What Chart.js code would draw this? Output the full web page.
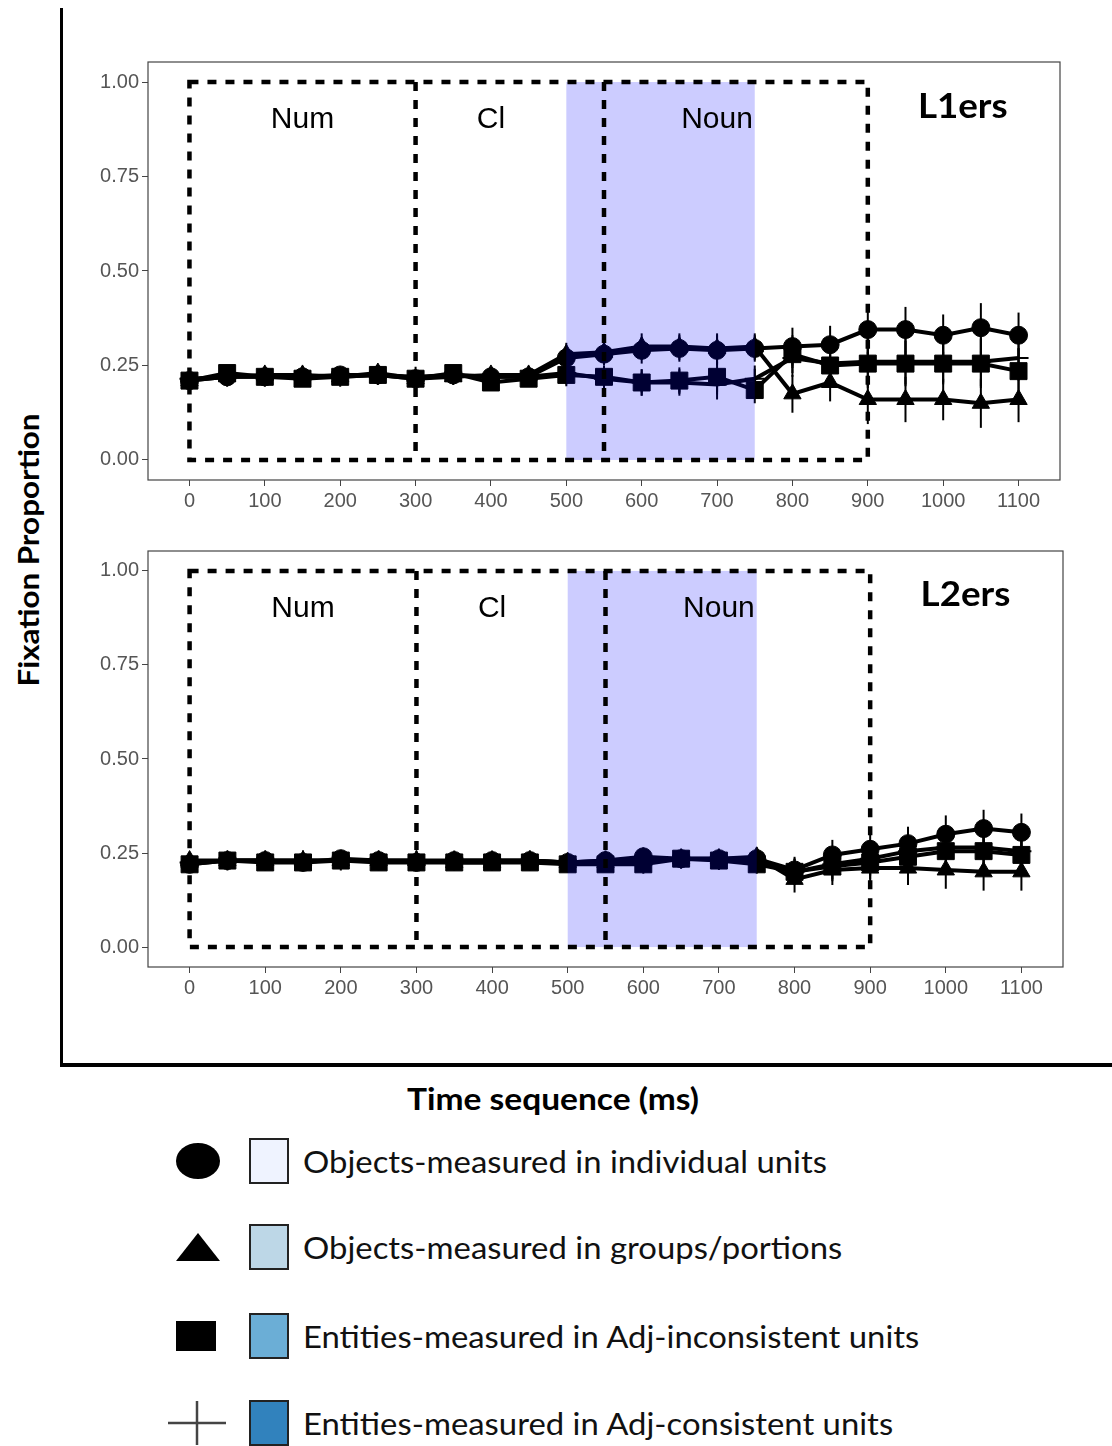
<!DOCTYPE html>
<html>
<head>
<meta charset="utf-8">
<script src="https://cdn.jsdelivr.net/npm/chart.js@4/dist/chart.umd.min.js"></script>
<style>
  body { margin: 0; background: #fff; width: 1112px; height: 1446px; position: relative; overflow: hidden; }
  .abs { position: absolute; }
  #frameV { left: 60px; top: 8px; width: 3px; height: 1059px; background: #000; }
  #frameH { left: 60px; top: 1063px; width: 1052px; height: 4px; background: #000; }
  #ytitle { left: 28px; top: 550px; transform: translate(-50%, -50%) rotate(-90deg) scaleX(1.12); font: bold 28px Lato, sans-serif; white-space: nowrap; }
  #xtitle { left: 553px; top: 1098px; transform: translate(-50%, -50%) scaleX(1.08); font: bold 31px Lato, sans-serif; white-space: nowrap; }
  .leg { position: absolute; left: 0; width: 1112px; height: 60px; }
  .leg .txt { position: absolute; left: 303px; top: 50%; transform: translateY(-50%) scaleX(1.06); transform-origin: left center; font: 31px Lato, sans-serif; white-space: nowrap; color: #111; }
  .leg .sw { position: absolute; left: 249px; top: 50%; width: 36px; height: 42px; transform: translateY(-50%); border: 2px solid #222; }
  .leg .mk { position: absolute; top: 50%; transform: translateY(-50%); }
</style>
</head>
<body>
<div id="frameV" class="abs"></div>
<div id="frameH" class="abs"></div>
<div id="ytitle" class="abs">Fixation Proportion</div>
<div id="xtitle" class="abs">Time sequence (ms)</div>

<canvas id="c1" class="abs" style="left:70px;top:47px;width:1010px;height:483px" width="1010" height="483"></canvas>
<canvas id="c2" class="abs" style="left:70px;top:536px;width:1013px;height:481px" width="1013" height="481"></canvas>

<div id="legend"></div>

<script>
// time points (ms)
var times = [0, 50, 100, 150, 200, 250, 300, 350, 400, 450, 500, 550, 600, 650, 700, 750, 800, 850, 900, 950, 1000, 1050, 1100];
var xTicks = [0, 100, 200, 300, 400, 500, 600, 700, 800, 900, 1000, 1100];
var yTicks = [0, 0.25, 0.5, 0.75, 1];

var seriesNames = [
  'Objects-measured in individual units',
  'Objects-measured in groups/portions',
  'Entities-measured in Adj-inconsistent units',
  'Entities-measured in Adj-consistent units'
];
var seriesColors = ['#EFF3FF', '#BDD7E7', '#6BAED6', '#3182BD'];

// L1ers panel
var l1Individual = [0.21, 0.22, 0.22, 0.22, 0.225, 0.225, 0.215, 0.225, 0.22, 0.22, 0.27, 0.28, 0.29, 0.295, 0.29, 0.295, 0.30, 0.305, 0.345, 0.345, 0.33, 0.35, 0.33];
var l1Groups = [0.21, 0.22, 0.225, 0.225, 0.22, 0.23, 0.215, 0.22, 0.225, 0.225, 0.28, 0.285, 0.30, 0.30, 0.295, 0.30, 0.175, 0.205, 0.16, 0.16, 0.16, 0.15, 0.16];
var l1AdjIncons = [0.21, 0.23, 0.22, 0.215, 0.22, 0.225, 0.215, 0.23, 0.205, 0.215, 0.225, 0.22, 0.205, 0.21, 0.22, 0.185, 0.28, 0.25, 0.255, 0.255, 0.255, 0.255, 0.235];
var l1AdjCons = [0.215, 0.22, 0.22, 0.22, 0.22, 0.225, 0.22, 0.225, 0.22, 0.22, 0.23, 0.215, 0.205, 0.205, 0.20, 0.215, 0.27, 0.255, 0.26, 0.26, 0.26, 0.26, 0.27];
var l1Err = [0.02, 0.02, 0.02, 0.02, 0.02, 0.02, 0.02, 0.02, 0.02, 0.02, 0.03, 0.03, 0.035, 0.035, 0.04, 0.035, 0.05, 0.05, 0.065, 0.06, 0.055, 0.065, 0.06];

// L2ers panel
var l2Individual = [0.22, 0.23, 0.23, 0.225, 0.235, 0.23, 0.225, 0.23, 0.23, 0.23, 0.225, 0.23, 0.24, 0.235, 0.235, 0.235, 0.205, 0.245, 0.26, 0.275, 0.30, 0.315, 0.305];
var l2Groups = [0.23, 0.23, 0.23, 0.23, 0.23, 0.23, 0.23, 0.225, 0.225, 0.23, 0.225, 0.225, 0.23, 0.235, 0.235, 0.24, 0.18, 0.205, 0.21, 0.21, 0.205, 0.20, 0.20];
var l2AdjIncons = [0.22, 0.23, 0.225, 0.225, 0.23, 0.225, 0.225, 0.225, 0.225, 0.225, 0.22, 0.22, 0.22, 0.235, 0.23, 0.22, 0.20, 0.215, 0.225, 0.24, 0.255, 0.255, 0.245];
var l2AdjCons = [0.225, 0.23, 0.23, 0.23, 0.23, 0.23, 0.23, 0.23, 0.23, 0.23, 0.225, 0.23, 0.23, 0.235, 0.235, 0.23, 0.20, 0.22, 0.235, 0.255, 0.265, 0.265, 0.255];
var l2Err = [0.02, 0.02, 0.02, 0.02, 0.02, 0.02, 0.02, 0.02, 0.02, 0.02, 0.02, 0.02, 0.025, 0.025, 0.025, 0.025, 0.035, 0.04, 0.045, 0.045, 0.05, 0.05, 0.05];

// regions (ms)
var shadeStart = 500, shadeEnd = 750;
var boxStart = 0, boxEnd = 900;
var boxDividers = [300, 550];
var regionLabels = ['Num', 'Cl', 'Noun'];
var regionLabelX = [150, 400, 700];

var pointStyles = ['circle', 'triangle', 'rect', 'cross'];
var pointSizes = [9, 10, 12, 10];

function toPoints(arr) {
  return arr.map(function (v, i) { return { x: times[i], y: v }; });
}

function makeDatasets(seriesList) {
  return seriesList.map(function (s, k) {
    return {
      label: seriesNames[k],
      data: toPoints(s),
      showLine: true,
      borderColor: '#000',
      backgroundColor: '#000',
      borderWidth: 4,
      tension: 0,
      pointStyle: pointStyles[k],
      pointRadius: pointSizes[k],
      pointBorderWidth: k == 3 ? 2 : 1,
      pointBorderColor: '#000',
      pointBackgroundColor: '#000'
    };
  });
}

var panelPlugin = {
  id: 'panelDecor',
  beforeDatasetsDraw: function (chart) {
    var ctx = chart.ctx, xs = chart.scales.x, ys = chart.scales.y;
    var err = chart.options.plugins.panelDecor.err;
    ctx.save();
    ctx.strokeStyle = '#000';
    ctx.lineWidth = 2;
    chart.data.datasets.forEach(function (ds) {
      ds.data.forEach(function (p, i) {
        var px = xs.getPixelForValue(p.x);
        ctx.beginPath();
        ctx.moveTo(px, ys.getPixelForValue(p.y - err[i]));
        ctx.lineTo(px, ys.getPixelForValue(p.y + err[i]));
        ctx.stroke();
      });
    });
    ctx.restore();
  },
  afterDatasetsDraw: function (chart) {
    var ctx = chart.ctx, xs = chart.scales.x, ys = chart.scales.y, a = chart.chartArea;
    var opts = chart.options.plugins.panelDecor;
    ctx.save();
    // shaded noun window
    ctx.fillStyle = 'rgba(0,0,255,0.2)';
    var s0 = xs.getPixelForValue(shadeStart), s1 = xs.getPixelForValue(shadeEnd);
    ctx.fillRect(s0, ys.getPixelForValue(1), s1 - s0, ys.getPixelForValue(0) - ys.getPixelForValue(1));
    // dashed region box
    ctx.strokeStyle = '#000';
    ctx.lineWidth = 4.5;
    ctx.setLineDash([9, 9]);
    var bx0 = xs.getPixelForValue(boxStart), bx1 = xs.getPixelForValue(boxEnd);
    var by0 = ys.getPixelForValue(1), by1 = ys.getPixelForValue(0);
    ctx.strokeRect(bx0, by0, bx1 - bx0, by1 - by0);
    boxDividers.forEach(function (d) {
      var px = xs.getPixelForValue(d);
      ctx.beginPath();
      ctx.moveTo(px, by0);
      ctx.lineTo(px, by1);
      ctx.stroke();
    });
    ctx.setLineDash([]);
    // region labels
    ctx.fillStyle = '#000';
    ctx.font = '30px "Liberation Sans", Arial, sans-serif';
    ctx.textAlign = 'center';
    ctx.textBaseline = 'middle';
    regionLabels.forEach(function (t, i) {
      ctx.fillText(t, xs.getPixelForValue(regionLabelX[i]), ys.getPixelForValue(0.9));
    });
    // panel label
    ctx.save();
    ctx.translate(xs.getPixelForValue(1026), ys.getPixelForValue(0.935));
    ctx.scale(1.08, 1);
    ctx.font = 'bold 34px Lato, sans-serif';
    ctx.fillText(opts.label, 0, 0);
    ctx.restore();
    // panel border
    ctx.strokeStyle = '#444';
    ctx.lineWidth = 1.2;
    ctx.strokeRect(a.left, a.top, a.right - a.left, a.bottom - a.top);
    ctx.restore();
  }
};

function makeChart(id, seriesList, err, label) {
  return new Chart(document.getElementById(id), {
    type: 'scatter',
    data: { datasets: makeDatasets(seriesList) },
    plugins: [panelPlugin],
    options: {
      responsive: false,
      animation: false,
      layout: { padding: { left: 0, right: 20, top: 9, bottom: 0 } },
      plugins: {
        legend: { display: false },
        tooltip: { enabled: false },
        panelDecor: { err: err, label: label }
      },
      scales: {
        x: {
          type: 'linear',
          min: -55,
          max: 1155,
          afterBuildTicks: function (s) { s.ticks = xTicks.map(function (v) { return { value: v }; }); },
          afterFit: function (s) { s.height = 50; },
          grid: { drawOnChartArea: false, drawTicks: true, tickLength: 6, tickColor: '#444' },
          border: { display: false },
          ticks: {
            color: '#555',
            font: { family: '"Liberation Sans", Arial, sans-serif', size: 20 },
            padding: 3,
            maxRotation: 0,
            autoSkip: false,
            callback: function (v) { return String(v); }
          }
        },
        y: {
          min: -0.053,
          max: 1.053,
          afterBuildTicks: function (s) { s.ticks = yTicks.map(function (v) { return { value: v }; }); },
          afterFit: function (s) { s.width = 78; },
          grid: { drawOnChartArea: false, drawTicks: true, tickLength: 6, tickColor: '#444' },
          border: { display: false },
          ticks: {
            color: '#555',
            font: { family: '"Liberation Sans", Arial, sans-serif', size: 20 },
            padding: 3,
            callback: function (v) { return Number(v).toFixed(2); }
          }
        }
      }
    }
  });
}

makeChart('c1', [l1Individual, l1Groups, l1AdjIncons, l1AdjCons], l1Err, 'L1ers');
makeChart('c2', [l2Individual, l2Groups, l2AdjIncons, l2AdjCons], l2Err, 'L2ers');

// legend
var legendRowY = [1161, 1247, 1336, 1423];
var legendMarks = [
  '<div class="mk" style="left:176px;width:44px;height:36px;border-radius:50%;background:#000"></div>',
  '<div class="mk" style="left:176px;width:0;height:0;border-left:22px solid transparent;border-right:22px solid transparent;border-bottom:28px solid #000"></div>',
  '<div class="mk" style="left:176px;width:40px;height:30px;background:#000"></div>',
  '<svg class="mk" style="left:168px" width="58" height="44"><line x1="0" y1="22" x2="58" y2="22" stroke="#444" stroke-width="2.5"/><line x1="29" y1="0" x2="29" y2="44" stroke="#444" stroke-width="2.5"/></svg>'
];
var legHtml = '';
seriesNames.forEach(function (n, i) {
  legHtml += '<div class="leg" style="top:' + (legendRowY[i] - 30) + 'px">' + legendMarks[i] +
    '<div class="sw" style="background:' + seriesColors[i] + '"></div>' +
    '<div class="txt">' + n + '</div></div>';
});
document.getElementById('legend').innerHTML = legHtml;
</script>
</body>
</html>
